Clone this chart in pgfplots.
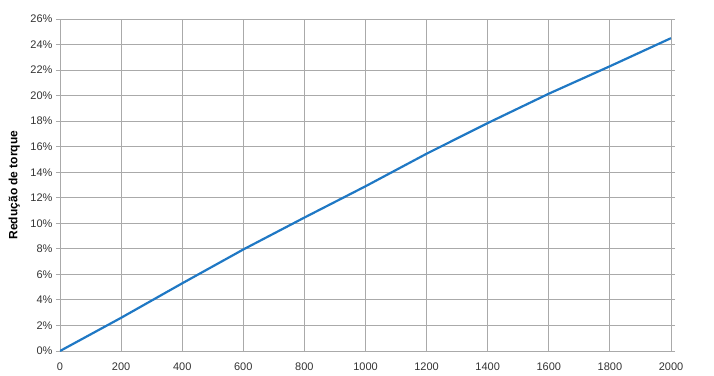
\documentclass[border=0pt]{standalone}
\usepackage{pgfplots}
\pgfplotsset{compat=1.18}
\usepackage{fontspec}
\setmainfont{Liberation Sans}
\definecolor{lineblue}{HTML}{1F78C4}
\definecolor{gridgray}{HTML}{AAAAAA}
\definecolor{ticktext}{HTML}{333333}
\begin{document}
\begin{tikzpicture}
\path[use as bounding box] (-60pt,-24pt) rectangle (654pt,351pt);
\begin{axis}[
  scale only axis,
  width=611pt, height=332pt,
  xmin=0, xmax=2000, ymin=0, ymax=26,
  xtick={0,200,...,2000},
  ytick={0,2,...,26},
  yticklabel={\pgfmathprintnumber{\tick}\%},
  /pgf/number format/assume math mode=true,
  /pgf/number format/1000 sep={},
  grid=major,
  major grid style={gridgray, line width=0.9pt},
  axis line style={gridgray, line width=0.9pt},
  tick style={gridgray, line width=0.9pt},
  tick align=outside,
  major tick length=4pt,
  xtick style={draw=none},
  ticklabel style={font=\fontsize{11}{13}\selectfont, text=ticktext},
  ylabel={\textbf{Redução de torque}},
  ylabel style={font=\fontsize{12}{14}\selectfont, at={(axis description cs:-0.06,0.5)}, anchor=south, rotate=0},
  xticklabel style={yshift=-4pt},
]
\addplot[lineblue, line width=2.2pt] coordinates {
(0,0) (200,2.6) (400,5.3) (600,7.95) (800,10.45) (1000,12.9) (1200,15.45) (1400,17.85) (1600,20.15) (1800,22.3) (2000,24.5)
};
\end{axis}
\end{tikzpicture}
\end{document}
